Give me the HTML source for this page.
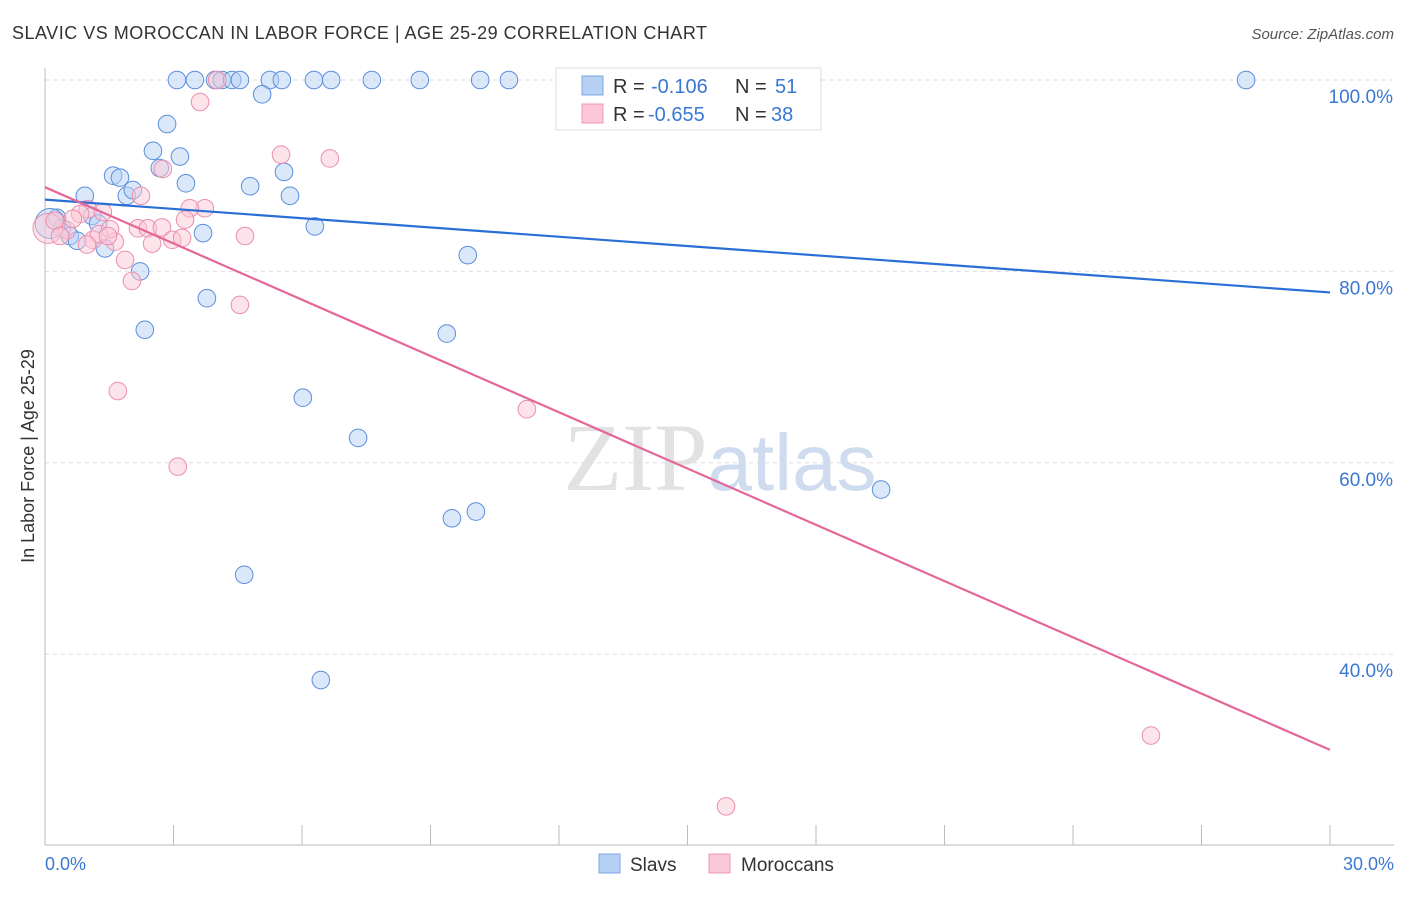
<!DOCTYPE html>
<html><head><meta charset="utf-8"><style>
body{margin:0;background:#fff;font-family:"Liberation Sans",sans-serif}
</style></head><body>
<svg width="1406" height="892" font-family="Liberation Sans, sans-serif">
<text x="12" y="39" font-size="18" fill="#333" textLength="695">SLAVIC VS MOROCCAN IN LABOR FORCE | AGE 25-29 CORRELATION CHART</text>
<text x="1394" y="39" font-size="15" fill="#555" font-style="italic" text-anchor="end">Source: ZipAtlas.com</text>
<text x="720" y="490" font-size="96" fill="#e2e2e2" text-anchor="middle" font-family="Liberation Serif, serif">ZIP<tspan fill="#cfdcef" font-family="Liberation Sans, sans-serif" font-size="80">atlas</tspan></text>
<g id="grid"></g>
<line x1="45" y1="68" x2="45" y2="845" stroke="#bbb"/>
<line x1="45" y1="845" x2="1394" y2="845" stroke="#bbb"/>
<text transform="translate(34,456) rotate(-90)" font-size="18" fill="#333" text-anchor="middle">In Labor Force | Age 25-29</text>
<text x="45" y="870" font-size="18" fill="#3a78d4">0.0%</text>
<text x="1394" y="870" font-size="18" fill="#3a78d4" text-anchor="end">30.0%</text>
<g id="marks"></g>
<g>
<rect x="556" y="68" width="265" height="62" fill="#fff" stroke="#ddd"/>
<rect x="582" y="76" width="21" height="19" fill="#b7d1f5" stroke="#7ea7e4"/>
<rect x="582" y="104" width="21" height="19" fill="#fcc7d6" stroke="#f09ab4"/>
<text x="613" y="93" font-size="20" fill="#333">R = <tspan x="651" fill="#3a78d4">-0.106</tspan><tspan x="735">N = </tspan><tspan x="775" fill="#3a78d4">51</tspan></text>
<text x="613" y="121" font-size="20" fill="#333">R = <tspan x="648" fill="#3a78d4">-0.655</tspan><tspan x="735">N = </tspan><tspan x="771" fill="#3a78d4">38</tspan></text>
</g>
<g>
<rect x="599" y="854" width="21" height="19" fill="#b7d1f5" stroke="#7ea7e4"/>
<text x="630" y="871" font-size="19" fill="#333">Slavs</text>
<rect x="709" y="854" width="21" height="19" fill="#fcc7d6" stroke="#f09ab4"/>
<text x="741" y="871" font-size="19" fill="#333">Moroccans</text>
</g>
</svg>
<script>
const yTicks=[100,80,60,40];
const xTicks=[0,3,6,9,12,15,18,21,24,27,30];
const slavsX=[3.08,3.50,3.97,4.13,4.37,4.55,5.25,5.53,6.28,6.68,7.63,8.75,10.16,10.83,28.04,5.07,2.85,2.52,3.15,1.59,1.75,2.68,3.29,4.79,5.58,0.93,1.91,2.05,5.72,0.28,0.40,1.10,1.24,0.58,0.75,1.40,3.69,6.30,9.87,2.22,3.78,2.33,9.38,6.02,7.31,19.52,9.50,10.06,4.65,6.44,0.12];
const slavsY=[100,100,100,100,100,100,100,100,100,100,100,100,100,100,100,98.5,95.4,92.6,92.0,90.0,89.8,90.8,89.2,88.9,90.4,87.9,87.9,88.5,87.9,85.6,84.5,85.8,85.0,83.7,83.2,82.4,84.0,84.7,81.7,80.0,77.2,73.9,73.5,66.8,62.6,57.2,54.2,54.9,48.3,37.3,85.0];
const morX=[4.02,3.62,5.51,6.65,2.75,2.24,1.00,3.73,3.38,3.27,4.67,2.17,2.40,2.73,1.35,0.82,0.51,1.12,1.63,2.50,2.97,3.20,1.26,1.52,1.87,2.03,4.55,1.70,11.25,3.10,25.82,15.90,0.07,0.23,0.65,1.47,0.35,0.98];
const morY=[100,97.7,92.2,91.8,90.7,87.9,86.5,86.6,86.6,85.4,83.7,84.5,84.5,84.6,86.2,86.0,84.3,83.3,83.1,82.9,83.3,83.5,83.9,84.4,81.2,79.0,76.5,67.5,65.6,59.6,31.5,24.1,84.5,85.3,85.5,83.7,83.7,82.8];
const slavsTrend=[87.5,77.8];
const morTrend=[88.8,30.0];
const X=v=>45+v/30*1285, Y=v=>80+(100-v)*9.57;
const NS='http://www.w3.org/2000/svg';
const grid=document.getElementById('grid'), marks=document.getElementById('marks');
yTicks.forEach(t=>{
 const l=document.createElementNS(NS,'line');
 l.setAttribute('x1',45);l.setAttribute('x2',1394);l.setAttribute('y1',Y(t));l.setAttribute('y2',Y(t));
 l.setAttribute('stroke','#ddd');l.setAttribute('stroke-dasharray','4 4');
 
 
 grid.appendChild(l);
 const tx=document.createElementNS(NS,'text');
 tx.setAttribute('x',1393);tx.setAttribute('y',Y(t)+23);tx.setAttribute('text-anchor','end');
 tx.setAttribute('font-size','19');tx.setAttribute('fill','#3a78d4');tx.textContent=t.toFixed(1)+'%';
 
 
 grid.appendChild(tx);
});
xTicks.forEach(t=>{
 const l=document.createElementNS(NS,'line');
 l.setAttribute('x1',X(t));l.setAttribute('x2',X(t));l.setAttribute('y1',825);l.setAttribute('y2',845);
 l.setAttribute('stroke','#bbb');
 
 
 grid.appendChild(l);
});
function pts(xs,ys,fill,stroke,name){
 xs.forEach((x,i)=>{
  const c=document.createElementNS(NS,'circle');
  const big=(i===xs.length-1&&name==='slav-point')||(i===32&&name==='moroccan-point');
  c.setAttribute('cx',X(x));c.setAttribute('cy',Y(ys[i]));c.setAttribute('r',big?15:8.8);
  c.setAttribute('fill',fill);c.setAttribute('fill-opacity','0.5');c.setAttribute('stroke',stroke);c.setAttribute('stroke-width','1');
  
  
  marks.appendChild(c);
 });
}
pts(slavsX,slavsY,'#b7d1f5','#5b8fdc','slav-point');
pts(morX,morY,'#fcc7d6','#ec8fae','moroccan-point');
function trend(v,color,name){
 const l=document.createElementNS(NS,'line');
 l.setAttribute('x1',X(0));l.setAttribute('y1',Y(v[0]));l.setAttribute('x2',X(30));l.setAttribute('y2',Y(v[1]));
 l.setAttribute('stroke',color);l.setAttribute('stroke-width','2.2');
 
 
 marks.appendChild(l);
}
trend(slavsTrend,'#2a6fd6','slavs-trendline');
trend(morTrend,'#e4679a','moroccans-trendline');
</script>
</body></html>
